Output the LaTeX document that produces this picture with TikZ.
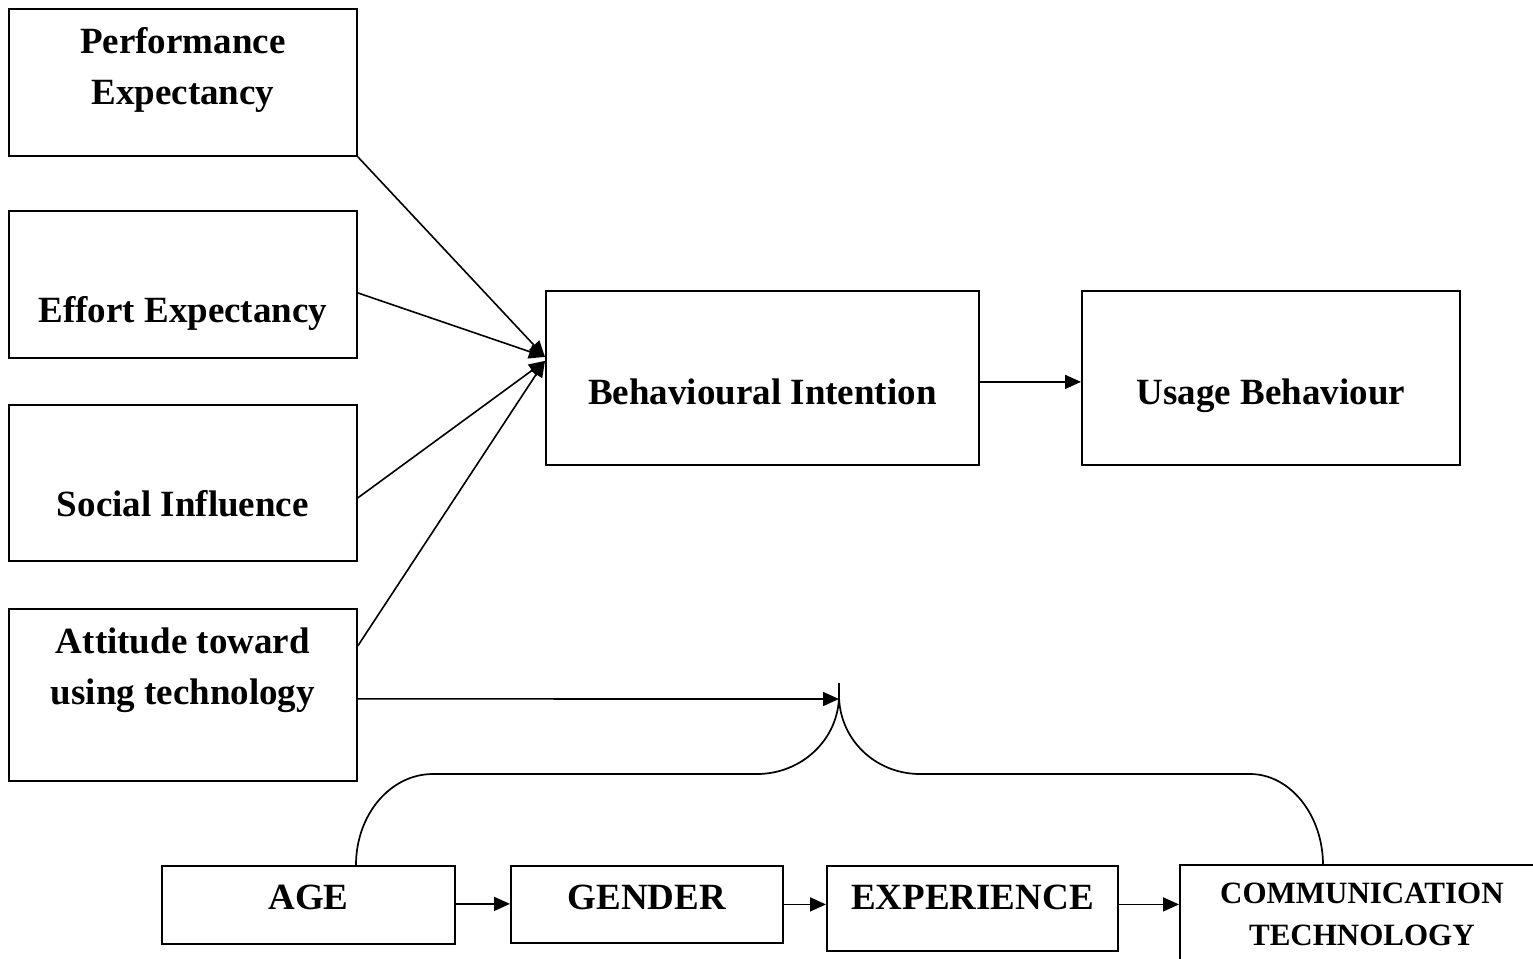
\documentclass[tikz,border=0pt]{standalone}
\usepackage{fontspec}
\setmainfont{Liberation Serif}
\usepackage{tikz}
\usetikzlibrary{arrows.meta,positioning,calc}
\tikzset{
  box/.style={draw=black, line width=1.8pt, inner sep=0pt, align=center, anchor=north west,
    font=\bfseries\fontsize{37}{51}\selectfont},
  capsbox/.style={box, font=\bfseries\fontsize{31}{42}\selectfont},
  arr/.style={draw=black, line width=1.6pt, -{Triangle[length=16pt,width=14pt]}},
  brace/.style={draw=black, line width=1.7pt},
}

\begin{document}
\begin{tikzpicture}[x=1pt,y=-1pt]
\useasboundingbox (0,0) rectangle (1533,958);
\clip (0,0) rectangle (1533,958);

\node[box, minimum width=348pt, text height=96pt, text depth=51pt] (pe) at (8,8) {Performance\\Expectancy};
\node[box, minimum width=348pt, text height=112pt, text depth=35pt] (ee) at (8,210) {Effort Expectancy};
\node[box, minimum width=348pt, text height=112pt, text depth=44pt] (si) at (8,404) {Social Influence};
\node[box, minimum width=348pt, text height=96pt, text depth=76pt] (at) at (8,608) {Attitude toward\\using technology};
\node[box, minimum width=433pt, text height=114pt, text depth=60pt] (bi) at (545,290) {Behavioural Intention};
\node[box, minimum width=378pt, text height=114pt, text depth=60pt] (ub) at (1081,290) {Usage Behaviour};

\node[box, minimum width=293pt, text height=44pt, text depth=34pt] (age) at (161,865) {AGE};
\node[box, minimum width=272pt, text height=44pt, text depth=33pt] (gender) at (510,865) {GENDER};
\node[box, minimum width=291pt, text height=44pt, text depth=41pt] (exp) at (826,865) {EXPERIENCE};
\node[capsbox, minimum width=364pt, text height=81pt, text depth=25pt] (comm) at (1179,864) {COMMUNICATION\\TECHNOLOGY};

\coordinate (join) at (839,699);

\draw[arr] (pe.south east) -- ([yshift=21pt]bi.west);
\draw[arr] ([yshift=-8.5pt]ee.east) -- ([yshift=21pt]bi.west);
\draw[arr] ([yshift=-15pt]si.east) -- ([yshift=17pt]bi.west);
\draw[arr] ([yshift=49pt]at.east) -- ([yshift=17pt]bi.west);
\draw[arr] ([yshift=-4pt]bi.east) -- ([yshift=-4pt]ub.west);
\draw[arr] ([yshift=-4pt]at.east) -- (join);

\draw[brace] (356,865) .. controls (356,815) and (390,774) .. (433,774) -- (757,774)
  .. controls (802,774) and (839,739) .. (839,695) -- (839,683);
\draw[brace] (839,695) .. controls (839,739) and (875,774) .. (920,774) -- (1250,774)
  .. controls (1290,774) and (1323,815) .. (1323,865);

\draw[arr] ([yshift=1pt]age.east) -- ([yshift=1pt]age.east -| gender.west);
\draw[arr] (gender.east) -- (gender.east -| exp.west);
\draw[arr] ([yshift=4pt]exp.east) -- ([yshift=4pt]exp.east -| comm.west);
\end{tikzpicture}
\end{document}
